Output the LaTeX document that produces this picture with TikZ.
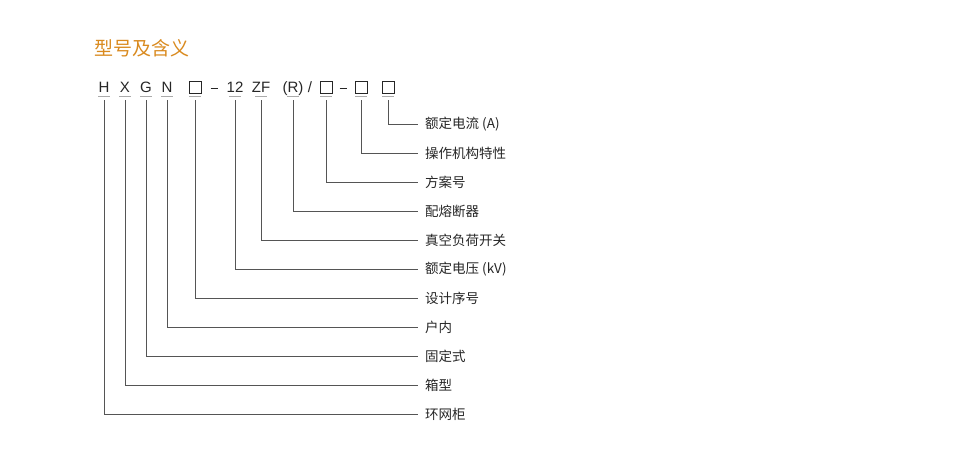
\documentclass[tikz,border=0pt]{standalone}
\usepackage{fontspec}
\setmainfont{Noto Sans CJK SC}
\newfontfamily\latn{Liberation Sans}
\definecolor{ttl}{HTML}{D98A1F}
\definecolor{ln}{HTML}{555555}
\definecolor{ul}{HTML}{AAAAAA}
\begin{document}
\begin{tikzpicture}[x=1pt,y=-1pt,
  code/.style={inner sep=0pt,anchor=base,font=\latn\fontsize{15}{15}\selectfont,text=black!85},
  sq/.style={draw=black!85,line width=0.8pt,minimum width=12pt,minimum height=12pt,inner sep=0pt},
  lbl/.style={anchor=west,inner sep=0pt,font=\fontsize{13.5}{14}\selectfont,text=black!85},
  conn/.style={draw=ln,line width=0.6pt},
  uline/.style={draw=ul,line width=0.8pt}]
\useasboundingbox (0,0) rectangle (960,458);
\node[anchor=west,inner sep=0pt,text=ttl,font=\fontsize{19}{19}\selectfont] (title) at (94,48) {型号及含义};
\foreach \n/\x/\t in {c1/104/H,c2/125/X,c3/146/G,c4/167/N,c6/235/12,c7/261/ZF,c8/293/(R)}{
  \node[code] (\n) at (\x,92.5) {\t};
  \draw[uline] (\x-6,96) -- (\x+6,96);
}
\foreach \n/\x in {c5/195,c9/326,c10/361,c11/388}{
  \node[sq] (\n) at (\x,87) {};
  \draw[uline] (\x-6,96) -- (\x+6,96);
}
\node[code] (s1) at (310,92.5) {/};
\coordinate (d1) at (214,88);
\coordinate (d2) at (343,88);
\draw[black!85,line width=0.8pt] ([xshift=-3.5pt]d1) -- ([xshift=3.5pt]d1);
\draw[black!85,line width=0.8pt] ([xshift=-3.5pt]d2) -- ([xshift=3.5pt]d2);
\foreach \n/\x/\y/\t in {c11/388/124/额定电流 (A),c10/361/153/操作机构特性,c9/326/182/方案号,c8/293/211/配熔断器,c7/261/240/真空负荷开关,c6/235/269/额定电压 (kV),c5/195/298/设计序号,c4/167/327/户内,c3/146/356/固定式,c2/125/385/箱型,c1/104/414/环网柜}{
  \node[lbl] (l\n) at (425,\y) {\t};
  \draw[conn] (\x,100) -- (\x,\y) -- (418,\y);
}
\end{tikzpicture}
\end{document}
